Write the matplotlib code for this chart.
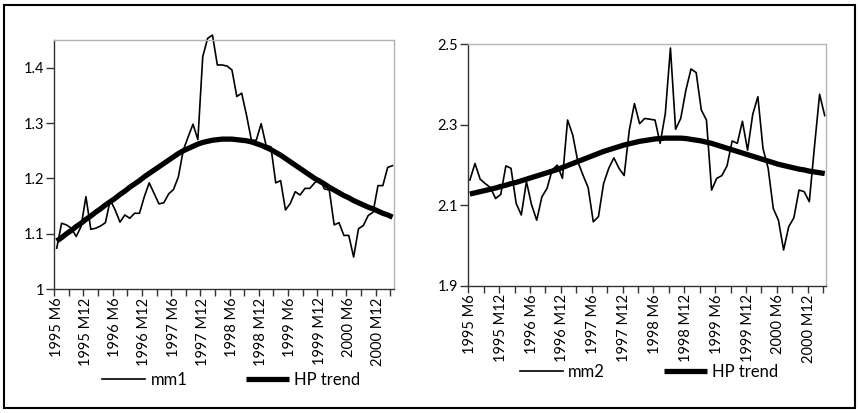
import numpy as np
import matplotlib
matplotlib.use("Agg")
from matplotlib import pyplot as plt
from matplotlib.patches import Rectangle

plt.rcParams['font.family'] = ['Lato', 'DejaVu Sans']

# monthly observations, 1995 M6 .. 2001 M3
mm1 = [1.074, 1.119, 1.116, 1.110, 1.095, 1.113, 1.167, 1.108, 1.110, 1.114,
       1.120, 1.161, 1.143, 1.121, 1.134, 1.128, 1.137, 1.137, 1.167, 1.192,
       1.173, 1.154, 1.156, 1.172, 1.180, 1.203, 1.251, 1.275, 1.298, 1.270,
       1.420, 1.453, 1.459, 1.405, 1.405, 1.403, 1.396, 1.348, 1.354, 1.314,
       1.269, 1.269, 1.299, 1.260, 1.257, 1.192, 1.196, 1.143, 1.155, 1.176,
       1.170, 1.182, 1.182, 1.192, 1.199, 1.181, 1.179, 1.116, 1.120, 1.097,
       1.097, 1.058, 1.109, 1.115, 1.133, 1.139, 1.187, 1.187, 1.220, 1.223]

mm1_trend = [1.087, 1.093, 1.100, 1.106, 1.113, 1.119, 1.126, 1.132, 1.139, 1.145,
             1.152, 1.158, 1.164, 1.171, 1.177, 1.184, 1.190, 1.196, 1.203, 1.209,
             1.215, 1.221, 1.227, 1.233, 1.239, 1.245, 1.250, 1.254, 1.258, 1.262,
             1.265, 1.267, 1.269, 1.270, 1.271, 1.271, 1.271, 1.270, 1.269, 1.268,
             1.266, 1.263, 1.260, 1.256, 1.252, 1.247, 1.242, 1.236, 1.230, 1.224,
             1.218, 1.212, 1.206, 1.200, 1.195, 1.190, 1.184, 1.179, 1.174, 1.169,
             1.165, 1.160, 1.156, 1.152, 1.148, 1.145, 1.141, 1.137, 1.134, 1.130]

mm2 = [2.163, 2.204, 2.165, 2.154, 2.144, 2.117, 2.127, 2.198, 2.192, 2.105,
       2.076, 2.159, 2.101, 2.063, 2.121, 2.142, 2.188, 2.200, 2.167, 2.312,
       2.275, 2.208, 2.175, 2.144, 2.059, 2.072, 2.154, 2.192, 2.218, 2.192,
       2.174, 2.287, 2.353, 2.303, 2.316, 2.314, 2.312, 2.254, 2.328, 2.491,
       2.289, 2.316, 2.386, 2.439, 2.430, 2.337, 2.312, 2.138, 2.167, 2.174,
       2.198, 2.260, 2.254, 2.309, 2.237, 2.326, 2.370, 2.241, 2.192, 2.092,
       2.063, 1.989, 2.047, 2.069, 2.138, 2.134, 2.109, 2.245, 2.376, 2.323]

mm2_trend = [2.128, 2.131, 2.134, 2.137, 2.140, 2.143, 2.147, 2.150, 2.154, 2.157,
             2.161, 2.165, 2.169, 2.173, 2.177, 2.181, 2.185, 2.189, 2.194, 2.199,
             2.204, 2.209, 2.214, 2.219, 2.224, 2.229, 2.234, 2.238, 2.242, 2.246,
             2.250, 2.253, 2.256, 2.259, 2.261, 2.263, 2.265, 2.266, 2.267, 2.267,
             2.267, 2.267, 2.266, 2.264, 2.262, 2.260, 2.257, 2.254, 2.250, 2.246,
             2.242, 2.238, 2.234, 2.230, 2.226, 2.222, 2.218, 2.214, 2.210, 2.206,
             2.202, 2.199, 2.196, 2.193, 2.190, 2.188, 2.185, 2.183, 2.181, 2.179]

tick_labels = ["1995 M6", "1995 M12", "1996 M6", "1996 M12", "1997 M6", "1997 M12",
               "1998 M6", "1998 M12", "1999 M6", "1999 M12", "2000 M6", "2000 M12"]


def panel(ax, series, trend, name, ylim, yticks, ylabels, xlim, leg_pos):
	x = np.arange(len(series))
	l1, = ax.plot(x, series, color='black', lw=1.2, label=name, clip_on=False)
	l2, = ax.plot(x, trend, color='black', lw=3.8, solid_capstyle='butt', label='HP trend')
	ax.set_xlim(*xlim)
	ax.set_ylim(*ylim)

	ax.set_xticks(np.arange(len(tick_labels)) * 6)
	ax.set_xticklabels(tick_labels, rotation=90)
	ax.set_xticks(xlim[0] + np.arange(24) * 3, minor=True)
	ax.tick_params(axis='x', which='major', length=0, pad=6, labelsize=10.5)
	ax.tick_params(axis='x', which='minor', length=5, width=1, color='#333333')
	ax.set_yticks(yticks)
	ax.set_yticklabels(ylabels)
	ax.tick_params(axis='y', length=6, width=1, color='#333333', pad=1.5, labelsize=10.5)

	for s in ['top', 'right']:
		ax.spines[s].set_color('#b4b4b4')
		ax.spines[s].set_linewidth(1)
	for s in ['left', 'bottom']:
		ax.spines[s].set_color('#333333')
		ax.spines[s].set_linewidth(1)

	ax.figure.legend(handles=[l1, l2], loc='center', bbox_to_anchor=leg_pos, ncol=2,
	                 frameon=False, fontsize=12, handlelength=2.6, columnspacing=3.5,
	                 handletextpad=0.3)


fig = plt.figure(figsize=(8.59, 4.13), dpi=100)

ax1 = fig.add_axes([0.0632, 0.300, 0.3955, 0.603])
panel(ax1, mm1, mm1_trend, 'mm1', (1.0, 1.45), [1.0, 1.1, 1.2, 1.3, 1.4],
      ["1", "1.1", "1.2", "1.3", "1.4"], (-0.5, 69.3), (0.269, 0.080))

ax2 = fig.add_axes([0.5452, 0.308, 0.4164, 0.5845])
panel(ax2, mm2, mm2_trend, 'mm2', (1.9, 2.5), [1.9, 2.1, 2.3, 2.5],
      ["1.9", "2.1", "2.3", "2.5"], (-0.3, 69.25), (0.7555, 0.099))

# outer frame
fig.patches.append(Rectangle((4 / 859, 5 / 413), 851 / 859, 403 / 413, transform=fig.transFigure,
                             fill=False, edgecolor='black', linewidth=1.5))

fig.savefig('out.png', dpi=100)
